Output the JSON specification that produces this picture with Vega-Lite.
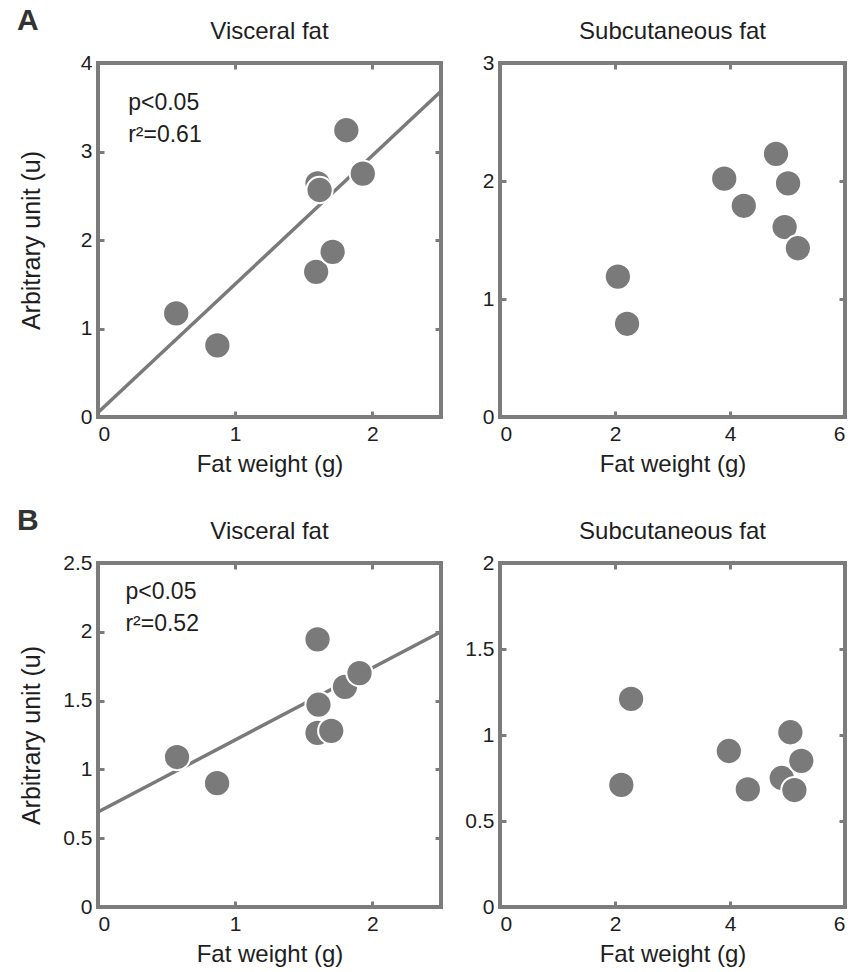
{
  "$schema": "https://vega.github.io/schema/vega-lite/v6.json",
  "background": "white",
  "padding": {"left": 17, "top": 6, "right": 5, "bottom": 5},
  "config": {
    "font": "Liberation Sans",
    "view": {"stroke": "#7c7c7c", "strokeWidth": 4},
    "axis": {
      "domain": false, "grid": false,
      "tickColor": "#7c7c7c", "tickWidth": 3, "tickSize": -6,
      "labelFont": "Liberation Sans", "labelFontSize": 21, "labelColor": "#1e1e1e", "labelPadding": 12,
      "titleFont": "Liberation Sans", "titleFontSize": 24, "titleFontWeight": "normal", "titleColor": "#1e1e1e",
      "format": "~g"
    },
    "axisY": {"minExtent": 46, "maxExtent": 46, "titlePadding": 8, "titleFontSize": 25},
    "axisX": {"titlePadding": 8},
    "title": {"font": "Liberation Sans", "fontSize": 24, "fontWeight": "normal", "color": "#1e1e1e", "offset": 8}
  },
  "spacing": 28,
  "vconcat": [
    {
      "title": {"text": "A", "anchor": "start", "fontSize": 30, "fontWeight": "bold", "color": "#333333", "offset": -18},
      "spacing": 2,
      "hconcat": [
        {
          "title": "Visceral fat",
          "width": 343, "height": 354,
          "layer": [
            {
              "data": {"values": [{"fat": 0, "u": 0.05}, {"fat": 2.5, "u": 3.68}]},
              "mark": {"type": "line", "color": "#7a7a7a", "strokeWidth": 3.5},
              "encoding": {
                "x": {"field": "fat", "type": "quantitative", "scale": {"domain": [0, 2.5], "nice": false}, "axis": {"values": [0, 1, 2], "title": "Fat weight (g)"}},
                "y": {"field": "u", "type": "quantitative", "scale": {"domain": [0, 4], "nice": false}, "axis": {"values": [0, 1, 2, 3, 4], "title": "Arbitrary unit (u)"}}
              }
            },
            {
              "data": {"values": [
                {"fat": 0.57, "u": 1.17}, {"fat": 0.87, "u": 0.81}, {"fat": 1.81, "u": 3.24},
                {"fat": 1.60, "u": 2.64}, {"fat": 1.615, "u": 2.565}, {"fat": 1.93, "u": 2.75},
                {"fat": 1.59, "u": 1.64}, {"fat": 1.71, "u": 1.865}
              ]},
              "mark": {"type": "circle", "size": 690, "fill": "#7a7a7a", "stroke": "white", "strokeWidth": 2, "opacity": 1},
              "encoding": {
                "x": {"field": "fat", "type": "quantitative", "axis": null},
                "y": {"field": "u", "type": "quantitative", "axis": null}
              }
            },
            {
              "data": {"values": [{"label": "p<0.05\nr²=0.61"}]},
              "mark": {"type": "text", "align": "left", "baseline": "top", "fontSize": 23, "lineHeight": 32, "lineBreak": "\n", "color": "#1e1e1e"},
              "encoding": {
                "text": {"field": "label"},
                "x": {"datum": 0.22, "type": "quantitative", "axis": {"orient": "top", "values": [1, 2], "labels": false, "labelPadding": 0, "title": null, "minExtent": 0, "maxExtent": 0}},
                "y": {"datum": 3.67, "type": "quantitative", "axis": {"orient": "right", "values": [1, 2, 3], "labels": false, "labelPadding": 0, "title": null, "minExtent": 0, "maxExtent": 0}}
              }
            }
          ],
          "resolve": {"axis": {"x": "independent", "y": "independent"}}
        },
        {
          "title": "Subcutaneous fat",
          "width": 345, "height": 354,
          "layer": [
            {
              "data": {"values": [
                {"fat": 2.05, "u": 1.19}, {"fat": 2.21, "u": 0.79}, {"fat": 3.90, "u": 2.02},
                {"fat": 4.24, "u": 1.79}, {"fat": 4.80, "u": 2.23}, {"fat": 5.01, "u": 1.98},
                {"fat": 4.95, "u": 1.61}, {"fat": 5.18, "u": 1.43}
              ]},
              "mark": {"type": "circle", "size": 690, "fill": "#7a7a7a", "stroke": "white", "strokeWidth": 2, "opacity": 1},
              "encoding": {
                "x": {"field": "fat", "type": "quantitative", "scale": {"domain": [0, 6], "nice": false}, "axis": {"values": [0, 2, 4, 6], "title": "Fat weight (g)"}},
                "y": {"field": "u", "type": "quantitative", "scale": {"domain": [0, 3], "nice": false}, "axis": {"values": [0, 1, 2, 3], "title": null}}
              }
            },
            {
              "data": {"values": [{"label": ""}]},
              "mark": {"type": "text"},
              "encoding": {
                "text": {"field": "label"},
                "x": {"datum": 0, "type": "quantitative", "axis": {"orient": "top", "values": [2, 4], "labels": false, "labelPadding": 0, "title": null, "minExtent": 0, "maxExtent": 0}},
                "y": {"datum": 0, "type": "quantitative", "axis": {"orient": "right", "values": [1, 2], "labels": false, "labelPadding": 0, "title": null, "minExtent": 0, "maxExtent": 0}}
              }
            }
          ],
          "resolve": {"axis": {"x": "independent", "y": "independent"}}
        }
      ]
    },
    {
      "title": {"text": "B", "anchor": "start", "fontSize": 30, "fontWeight": "bold", "color": "#333333", "offset": -18},
      "spacing": 2,
      "hconcat": [
        {
          "title": "Visceral fat",
          "width": 343, "height": 344,
          "layer": [
            {
              "data": {"values": [{"fat": 0, "u": 0.69}, {"fat": 2.5, "u": 2.0}]},
              "mark": {"type": "line", "color": "#7a7a7a", "strokeWidth": 3.5},
              "encoding": {
                "x": {"field": "fat", "type": "quantitative", "scale": {"domain": [0, 2.5], "nice": false}, "axis": {"values": [0, 1, 2], "title": "Fat weight (g)"}},
                "y": {"field": "u", "type": "quantitative", "scale": {"domain": [0, 2.5], "nice": false}, "axis": {"values": [0, 0.5, 1, 1.5, 2, 2.5], "title": "Arbitrary unit (u)"}}
              }
            },
            {
              "data": {"values": [
                {"fat": 0.576, "u": 1.09}, {"fat": 0.868, "u": 0.90}, {"fat": 1.60, "u": 1.945},
                {"fat": 1.607, "u": 1.47}, {"fat": 1.80, "u": 1.60}, {"fat": 1.906, "u": 1.70},
                {"fat": 1.60, "u": 1.265}, {"fat": 1.70, "u": 1.28}
              ]},
              "mark": {"type": "circle", "size": 690, "fill": "#7a7a7a", "stroke": "white", "strokeWidth": 2, "opacity": 1},
              "encoding": {
                "x": {"field": "fat", "type": "quantitative", "axis": null},
                "y": {"field": "u", "type": "quantitative", "axis": null}
              }
            },
            {
              "data": {"values": [{"label": "p<0.05\nr²=0.52"}]},
              "mark": {"type": "text", "align": "left", "baseline": "top", "fontSize": 23, "lineHeight": 32, "lineBreak": "\n", "color": "#1e1e1e"},
              "encoding": {
                "text": {"field": "label"},
                "x": {"datum": 0.2, "type": "quantitative", "axis": {"orient": "top", "values": [1, 2], "labels": false, "labelPadding": 0, "title": null, "minExtent": 0, "maxExtent": 0}},
                "y": {"datum": 2.37, "type": "quantitative", "axis": {"orient": "right", "values": [0.5, 1, 1.5, 2], "labels": false, "labelPadding": 0, "title": null, "minExtent": 0, "maxExtent": 0}}
              }
            }
          ],
          "resolve": {"axis": {"x": "independent", "y": "independent"}}
        },
        {
          "title": "Subcutaneous fat",
          "width": 345, "height": 344,
          "layer": [
            {
              "data": {"values": [
                {"fat": 2.28, "u": 1.21}, {"fat": 2.11, "u": 0.71}, {"fat": 3.98, "u": 0.907},
                {"fat": 4.31, "u": 0.684}, {"fat": 4.90, "u": 0.75}, {"fat": 5.05, "u": 1.016},
                {"fat": 5.12, "u": 0.68}, {"fat": 5.24, "u": 0.85}
              ]},
              "mark": {"type": "circle", "size": 690, "fill": "#7a7a7a", "stroke": "white", "strokeWidth": 2, "opacity": 1},
              "encoding": {
                "x": {"field": "fat", "type": "quantitative", "scale": {"domain": [0, 6], "nice": false}, "axis": {"values": [0, 2, 4, 6], "title": "Fat weight (g)"}},
                "y": {"field": "u", "type": "quantitative", "scale": {"domain": [0, 2], "nice": false}, "axis": {"values": [0, 0.5, 1, 1.5, 2], "title": null}}
              }
            },
            {
              "data": {"values": [{"label": ""}]},
              "mark": {"type": "text"},
              "encoding": {
                "text": {"field": "label"},
                "x": {"datum": 0, "type": "quantitative", "axis": {"orient": "top", "values": [2, 4], "labels": false, "labelPadding": 0, "title": null, "minExtent": 0, "maxExtent": 0}},
                "y": {"datum": 0, "type": "quantitative", "axis": {"orient": "right", "values": [0.5, 1, 1.5], "labels": false, "labelPadding": 0, "title": null, "minExtent": 0, "maxExtent": 0}}
              }
            }
          ],
          "resolve": {"axis": {"x": "independent", "y": "independent"}}
        }
      ]
    }
  ]
}
